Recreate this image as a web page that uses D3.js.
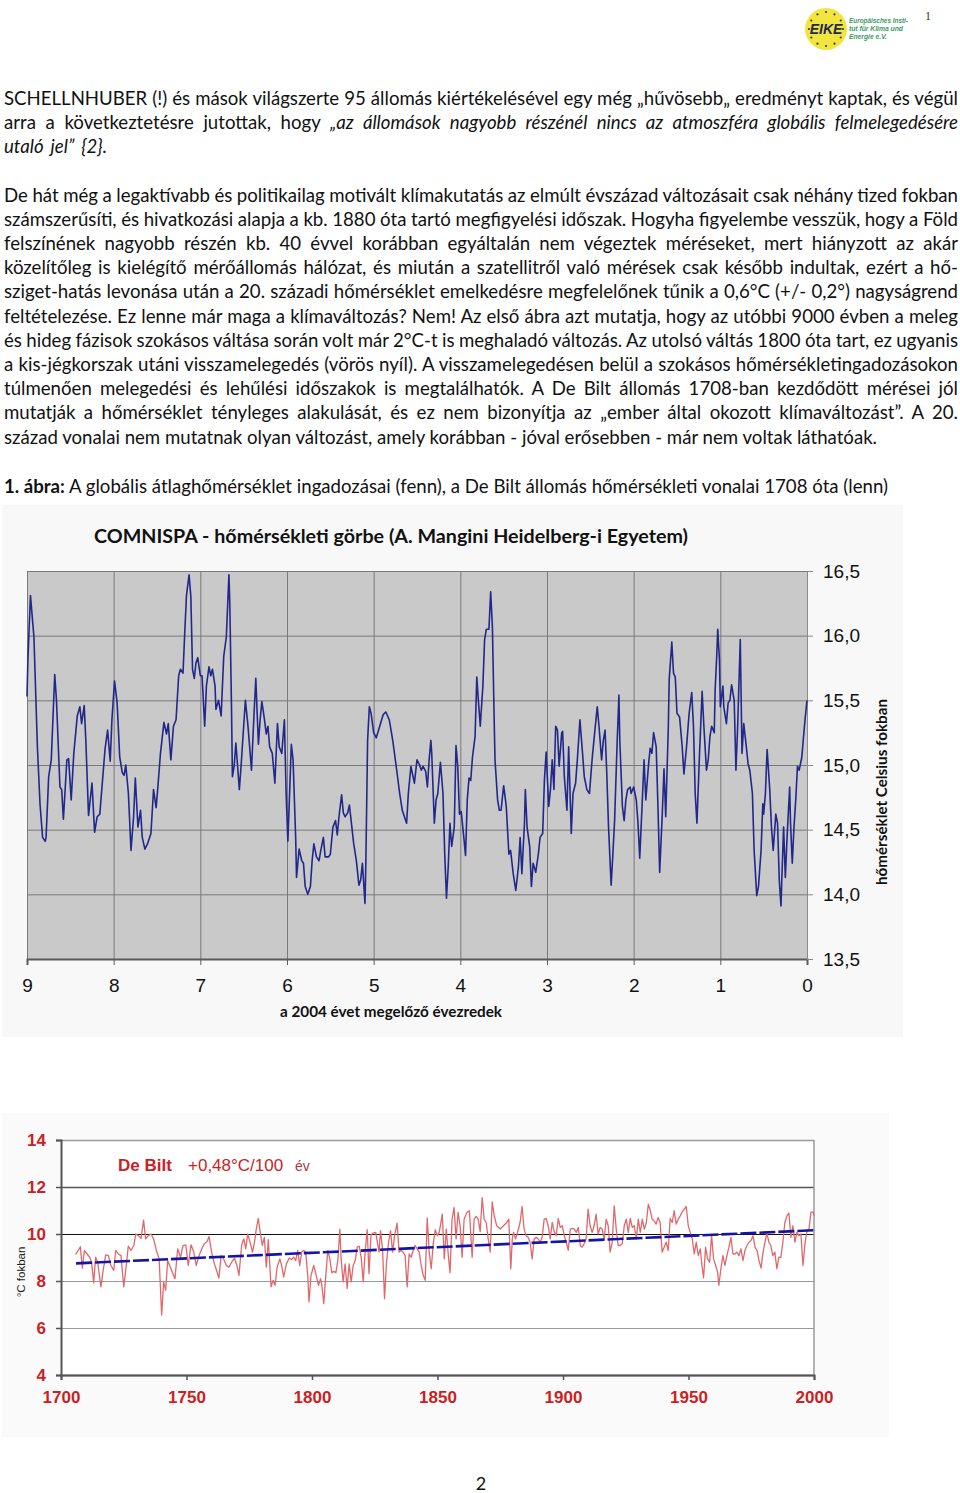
<!DOCTYPE html>
<html><head><meta charset="utf-8">
<script src="https://cdn.jsdelivr.net/npm/d3@7"></script>
<style>
html,body{margin:0;padding:0;background:#fff;}
svg{display:block;}
</style></head><body>
<svg id="page" width="960" height="1493"></svg>
<script>
// ---------------- DATA ----------------
// COMNISPA: millennia before 2004, temperature (°C)
const comnispaKa = [9.00,8.99,8.96,8.93,8.92,8.88,8.85,8.82,8.79,8.78,8.75,8.72,8.68,8.66,8.62,8.60,8.58,8.56,8.54,8.52,8.49,8.46,8.42,8.39,8.37,8.34,8.32,8.29,8.25,8.22,8.19,8.16,8.10,8.07,8.04,8.02,7.99,7.96,7.93,7.90,7.88,7.86,7.83,7.80,7.77,7.75,7.72,7.69,7.67,7.64,7.61,7.57,7.54,7.51,7.49,7.46,7.42,7.39,7.37,7.34,7.31,7.28,7.25,7.23,7.20,7.18,7.16,7.13,7.11,7.09,7.07,7.05,7.03,7.00,6.98,6.95,6.93,6.90,6.88,6.86,6.83,6.82,6.79,6.76,6.73,6.70,6.67,6.66,6.64,6.63,6.61,6.59,6.57,6.55,6.53,6.50,6.48,6.45,6.41,6.38,6.36,6.33,6.31,6.29,6.26,6.24,6.22,6.20,6.17,6.14,6.11,6.09,6.06,6.03,6.01,5.99,5.97,5.95,5.93,5.90,5.89,5.86,5.83,5.81,5.79,5.76,5.73,5.71,5.69,5.66,5.63,5.61,5.58,5.56,5.52,5.50,5.47,5.44,5.42,5.40,5.37,5.35,5.33,5.30,5.28,5.26,5.23,5.20,5.17,5.15,5.13,5.10,5.09,5.07,5.05,5.03,5.00,4.97,4.93,4.89,4.86,4.82,4.78,4.74,4.70,4.67,4.62,4.60,4.57,
4.53,4.50,4.47,4.45,4.43,4.40,4.38,4.36,4.34,4.33,4.30,4.28,4.26,4.23,4.20,4.18,4.16,4.14,4.12,4.10,4.07,4.05,4.03,4.01,3.99,3.96,3.94,3.92,3.90,3.88,3.86,3.83,3.81,3.79,3.77,3.74,3.72,3.70,3.67,3.65,3.63,3.61,3.60,3.57,3.55,3.53,3.50,3.47,3.44,3.42,3.39,3.36,3.33,3.31,3.29,3.26,3.25,3.23,3.20,3.18,3.16,3.13,3.10,3.08,3.05,3.03,3.01,2.98,2.96,2.94,2.92,2.90,2.88,2.86,2.83,2.82,2.80,2.77,2.75,2.72,2.70,2.67,2.65,2.62,2.59,2.57,2.54,2.51,2.48,2.45,2.42,2.40,2.37,2.35,2.33,2.31,2.29,2.26,2.24,2.22,2.19,2.17,2.16,2.13,2.11,2.09,2.07,2.04,2.03,2.00,1.97,1.95,1.93,1.90,1.88,1.86,1.83,1.81,1.79,1.77,1.74,1.72,1.70,1.67,1.65,1.63,1.60,1.59,1.56,1.54,1.52,1.50,1.47,1.44,1.42,1.39,1.36,1.33,1.31,1.29,1.27,1.24,1.21,1.19,1.16,1.14,1.12,1.10,1.07,1.06,1.04,1.03,1.01,1.00,0.97,0.96,0.93,0.91,0.89,0.87,0.84,0.82,0.80,0.77,0.75,0.73,0.70,0.68,0.66,0.63,0.61,0.58,0.56,0.53,0.51,0.50,0.48,0.46,0.43,0.41,0.39,0.36,0.34,0.32,0.30,0.29,0.27,0.25,0.23,0.20,0.19,0.17,0.15,0.13,0.11,0.09,0.06,0.04,0.02,0.00];
const comnispaTemp = [15.53,15.81,16.31,16.07,15.99,15.14,14.70,14.44,14.41,14.44,14.91,15.04,15.70,15.50,14.83,14.81,14.58,14.81,15.04,15.05,14.73,15.09,15.38,15.45,15.32,15.46,15.17,14.61,14.86,14.48,14.60,14.62,15.12,15.27,15.03,15.35,15.65,15.48,15.06,14.94,14.92,15.00,14.78,14.34,14.60,14.90,14.52,14.65,14.44,14.35,14.39,14.47,14.81,14.67,14.83,15.09,15.33,15.24,15.32,15.04,15.30,15.35,15.69,15.74,15.71,16.02,16.31,16.47,16.31,15.74,15.67,15.79,15.83,15.69,15.69,15.30,15.61,15.76,15.69,15.74,15.61,15.43,15.50,15.38,15.84,15.99,16.47,16.25,15.43,14.91,14.99,15.17,14.99,14.81,14.99,15.30,15.50,15.30,14.96,15.40,15.67,15.16,15.35,15.49,15.35,15.24,15.30,15.14,15.09,14.86,15.32,15.14,15.09,15.35,14.78,14.41,14.78,15.16,15.04,14.44,14.13,14.35,14.26,14.24,14.06,14.00,14.06,14.26,14.39,14.29,14.26,14.34,14.44,14.29,14.29,14.31,14.52,14.57,14.46,14.60,14.77,14.63,14.60,14.63,14.69,14.57,14.39,14.26,14.07,14.11,14.24,13.93,14.26,15.19,15.45,15.40,15.25,15.21,15.30,15.39,15.41,15.35,15.19,14.99,14.78,14.65,14.55,14.78,14.99,
14.86,15.04,15.00,14.96,14.99,14.95,14.83,15.04,15.19,15.09,14.55,14.73,14.78,15.02,14.78,14.31,13.97,14.21,14.55,14.37,14.52,15.15,14.99,14.62,14.64,14.44,14.30,14.73,14.90,14.88,15.06,15.22,15.68,15.48,15.30,15.61,15.97,16.05,16.05,16.34,16.07,15.37,15.04,14.73,14.65,14.65,14.84,14.68,14.31,14.34,14.16,14.03,14.21,14.44,14.16,14.55,14.81,14.52,14.37,14.06,14.24,14.17,14.31,14.44,14.47,14.88,15.10,14.68,14.81,15.04,14.81,15.30,15.27,14.99,15.25,15.26,14.91,14.65,15.14,14.47,14.78,14.86,15.04,15.35,15.09,14.91,14.81,14.78,15.04,15.25,15.45,15.30,15.04,15.19,15.27,14.93,14.52,14.07,14.31,14.57,15.19,15.54,15.19,14.68,14.57,14.73,14.81,14.83,14.78,14.83,14.73,14.55,14.28,14.73,15.04,14.73,14.99,15.13,15.09,15.25,15.14,14.68,14.17,14.62,14.97,14.60,15.30,15.66,15.95,15.71,15.68,15.40,15.37,15.14,14.93,15.14,15.40,15.56,15.30,14.78,14.55,15.09,15.57,15.30,14.96,15.04,15.22,15.30,15.25,15.58,15.87,16.05,15.81,15.45,15.61,15.45,15.32,15.48,15.50,15.62,15.50,14.96,15.30,15.97,15.09,15.32,15.14,15.01,14.96,14.78,14.34,13.99,14.06,14.34,14.70,14.62,14.78,15.12,14.81,14.52,14.34,14.62,14.55,14.11,13.91,14.13,14.52,14.13,14.44,14.83,14.55,14.24,14.52,14.73,14.99,14.96,15.06,15.22,15.37,15.50];
const comnispaXTicks = [9,8,7,6,5,4,3,2,1,0];
const comnispaYTicks = [13.5,14.0,14.5,15.0,15.5,16.0,16.5];

// De Bilt annual mean temperature (°C)
const deBiltYears = [1705.8,1706.9,1707.7,1708.5,1709.3,1710.4,1711.4,1712.2,1713.0,1713.8,1714.6,1715.9,1716.7,1717.8,1718.9,1719.9,1721.0,1721.8,1722.8,1723.9,1725.0,1726.0,1726.8,1727.9,1729.0,1729.8,1730.8,1731.9,1732.9,1733.7,1734.8,1735.9,1736.9,1738.0,1739.1,1740.1,1740.9,1741.7,1742.5,1743.3,1744.1,1745.4,1746.5,1747.6,1748.6,1749.7,1750.7,1751.8,1752.9,1753.9,1755.0,1756.1,1757.1,1758.2,1759.0,1760.0,1761.1,1762.2,1762.9,1763.8,1764.8,1765.9,1766.9,1768.0,1769.1,1770.1,1770.9,1772.0,1772.8,1773.6,1774.4,1775.5,1776.3,1777.1,1777.8,1778.6,1779.4,1780.2,1781.0,1781.8,1782.6,1783.7,1784.5,1785.3,1786.1,1787.2,1787.9,1788.7,1789.8,1790.9,1791.9,1792.7,1793.5,1794.3,1795.1,1795.9,1796.7,1797.5,1798.3,1798.8,1799.6,1800.7,1801.5,1802.6,1803.4,1803.9,1804.7,1805.5,1806.3,1807.1,1807.9,1808.7,1809.5,1810.3,1811.1,1811.6,1812.4,1813.2,1814.0,1814.8,1815.6,1816.4,1817.2,1818.0,1818.8,1819.6,1820.4,1821.2,1822.0,1822.7,1823.5,1824.3,1825.4,1826.2,1826.7,1827.3,1828.1,1828.9,1829.7,1830.5,1831.3,1832.1,1832.9,1833.9,1834.7,1835.5,1836.3,1837.1,1837.9,1838.7,1839.5,1840.3,1841.1,1841.9,1842.7,1843.5,1844.3,1845.1,1845.9,1846.7,1847.5,1848.3,1849.1,1849.9,1850.7,
1851.9,1852.7,1853.5,1854.2,1855.0,1855.8,1856.6,1857.4,1858.2,1859.0,1859.8,1860.6,1861.7,1862.7,1863.8,1864.6,1865.4,1866.2,1867.0,1867.8,1868.6,1869.4,1870.2,1871.0,1871.8,1872.6,1873.6,1875.0,1876.3,1877.6,1878.4,1879.2,1879.8,1880.3,1881.1,1881.9,1882.9,1883.7,1884.5,1885.3,1886.1,1886.9,1887.7,1888.5,1889.3,1890.1,1890.9,1891.7,1892.5,1893.3,1894.1,1894.9,1895.7,1896.5,1897.3,1898.1,1898.9,1899.7,1900.5,1901.3,1902.1,1902.9,1903.7,1904.5,1905.3,1906.1,1906.9,1907.6,1908.4,1909.2,1910.0,1910.8,1911.6,1912.4,1913.2,1914.0,1914.8,1915.6,1916.4,1917.2,1918.0,1918.8,1919.6,1920.4,1921.2,1922.0,1922.8,1923.6,1924.4,1925.2,1926.0,1926.8,1927.6,1928.4,1929.2,1930.0,1930.8,1931.6,1932.4,1933.2,1934.0,1934.8,1935.5,1936.3,1937.1,1937.9,1938.7,1939.5,1940.3,1941.1,1941.9,1942.7,1943.5,1944.3,1945.1,1945.9,1946.7,1947.5,1948.3,1949.1,1949.9,1950.7,1951.5,1952.3,1953.1,1953.9,1954.7,1955.2,1956.0,1956.8,1957.6,1958.4,1959.2,1960.0,1960.8,1961.6,1962.1,1962.9,1963.7,1964.5,1965.3,1966.1,1966.9,1967.7,1968.5,1969.3,1970.1,1970.9,1971.7,1972.5,1973.3,1974.1,1974.9,1975.7,1976.5,1977.3,1978.1,1978.9,1979.7,1980.5,1981.2,1982.0,1982.8,1983.6,1984.4,1985.2,1986.0,1986.8,1987.6,1988.4,1989.2,1990.0,1990.8,1991.6,1992.4,1993.2,1994.0,1994.8,1995.6,1996.4,1997.2,1998.0,1998.8,1999.6,2000.1];
const deBiltTemp = [9.13,9.30,9.46,8.55,9.30,9.15,9.01,8.80,7.92,9.01,8.80,7.75,8.38,9.11,9.08,8.66,8.45,9.30,9.15,9.08,7.75,8.66,9.48,9.30,9.51,10.00,9.93,9.82,10.59,9.79,9.93,10.00,9.79,9.30,8.94,6.55,7.96,7.61,8.87,8.66,8.45,8.10,9.37,9.01,9.51,9.54,8.66,9.54,9.23,8.66,9.08,9.37,9.58,9.68,9.89,9.23,8.73,8.38,8.13,9.08,8.94,8.66,8.59,8.80,8.97,8.66,8.24,9.54,9.79,9.37,10.00,9.58,9.23,9.65,10.21,10.66,10.07,9.51,9.86,8.59,9.76,7.75,8.03,7.82,8.59,8.94,8.66,8.17,8.73,8.97,8.92,9.01,8.87,9.30,8.66,9.23,9.30,9.23,8.24,7.11,8.24,8.66,8.31,7.82,8.10,7.82,7.04,8.24,9.30,8.94,8.35,8.41,8.35,8.87,10.21,8.94,7.96,8.73,7.68,8.73,7.96,8.66,8.87,9.44,9.48,9.01,7.96,9.30,10.18,8.31,9.96,10.04,10.07,9.54,9.23,10.14,9.37,7.25,8.80,9.65,10.14,9.23,9.93,10.46,9.23,9.30,9.23,9.08,7.75,9.15,9.01,9.30,9.51,9.37,9.23,8.66,8.24,8.03,10.68,9.23,8.52,9.58,10.18,9.93,10.07,
10.85,8.94,10.21,9.23,8.35,10.63,11.13,9.79,10.92,10.35,9.01,10.63,10.92,10.99,9.01,10.63,10.75,10.63,10.10,11.55,10.63,10.49,9.79,9.23,11.37,10.77,10.35,10.21,10.35,10.49,10.63,8.52,9.79,10.07,9.79,10.07,10.49,11.17,10.21,9.93,9.86,9.65,8.94,9.79,9.86,9.79,9.65,9.86,10.63,10.66,10.35,9.79,10.49,10.10,9.93,10.66,10.28,10.35,9.93,9.65,9.30,10.21,10.24,10.21,10.07,10.28,9.51,9.44,9.58,9.79,11.06,10.35,10.07,10.35,10.85,10.00,10.28,10.21,9.79,10.63,10.35,9.23,9.65,11.20,10.21,9.51,9.51,9.58,10.35,10.63,10.07,10.66,10.28,10.35,9.79,10.63,10.07,10.63,10.21,10.49,11.27,10.99,10.63,10.56,10.42,10.70,10.49,9.23,9.44,9.65,9.30,10.66,10.49,10.99,10.42,10.63,10.77,10.94,11.06,11.17,10.35,10.07,9.79,9.15,9.65,9.08,9.37,8.80,8.13,9.44,8.94,8.80,9.93,8.94,8.66,8.38,7.82,8.52,9.08,8.66,9.08,9.44,9.86,9.15,9.15,9.23,9.08,9.37,8.87,9.30,9.51,9.65,9.72,9.93,9.44,9.30,8.87,8.55,9.23,9.65,10.07,9.65,9.51,9.08,9.23,8.52,9.01,9.01,9.65,10.49,10.77,10.89,9.86,10.35,9.65,10.07,9.93,10.00,8.66,9.58,10.14,10.21,10.92,10.94,10.77];
const deBiltTrendYears = [1706, 2000];
const deBiltTrendTemp = [8.75, 10.16];
const deBiltXTicks = [1700,1750,1800,1850,1900,1950,2000];
const deBiltYTicks = [4,6,8,10,12,14];

// ---------------- TEXT ----------------
const para1 = [
  [["SCHELLNHUBER (!) és mások világszerte 95 állomás kiértékelésével egy még „hűvösebb„ eredményt kaptak, és végül",""]],
  [["arra a következtetésre jutottak, hogy ",""],["„az állomások nagyobb részénél nincs az atmoszféra globális felmelegedésére","i"]],
  [["utaló jel” {2}.","i"]]
];
const para2 = [
  [["De hát még a legaktívabb és politikailag motivált klímakutatás az elmúlt évszázad változásait csak néhány tized fokban",""]],
  [["számszerűsíti, és hivatkozási alapja a kb. 1880 óta tartó megfigyelési időszak. Hogyha figyelembe vesszük, hogy a Föld",""]],
  [["felszínének nagyobb részén kb. 40 évvel korábban egyáltalán nem végeztek méréseket, mert hiányzott az akár",""]],
  [["közelítőleg is kielégítő mérőállomás hálózat, és miután a szatellitről való mérések csak később indultak, ezért a hő-",""]],
  [["sziget-hatás levonása után a 20. századi hőmérséklet emelkedésre megfelelőnek tűnik a 0,6°C (+/- 0,2°) nagyságrend",""]],
  [["feltételezése. Ez lenne már maga a klímaváltozás? Nem! Az első ábra azt mutatja, hogy az utóbbi 9000 évben a meleg",""]],
  [["és hideg fázisok szokásos váltása során volt már 2°C-t is meghaladó változás. Az utolsó váltás 1800 óta tart, ez ugyanis",""]],
  [["a kis-jégkorszak utáni visszamelegedés (vörös nyíl). A visszamelegedésen belül a szokásos hőmérsékletingadozásokon",""]],
  [["túlmenően melegedési és lehűlési időszakok is megtalálhatók. A De Bilt állomás 1708-ban kezdődött mérései jól",""]],
  [["mutatják a hőmérséklet tényleges alakulását, és ez nem bizonyítja az „ember által okozott klímaváltozást”. A 20.",""]],
  [["század vonalai nem mutatnak olyan változást, amely korábban - jóval erősebben - már nem voltak láthatóak.",""]]
];
const para3 = [
  [["1. ábra:","b"],[" A globális átlaghőmérséklet ingadozásai (fenn), a De Bilt állomás hőmérsékleti vonalai 1708 óta (lenn)",""]]
];
const para1Ends = [958, 958, 107];
const para2Ends = [958,958,958,958,958,958,958,958,958,958,877];
const para3Ends = [888];

const chart1Title = "COMNISPA - hőmérsékleti görbe (A. Mangini Heidelberg-i Egyetem)";
const chart1XTitle = "a 2004 évet megelőző évezredek";
const chart1YTitle = "hőmérséklet Celsius fokban";
const chart2Label1 = "De Bilt";
const chart2Label2 = "+0,48°C/100";
const chart2Label3 = "év";
const chart2YTitle = "°C fokban";
const logoLines = ["Europäisches Insti-","tut für Klima und","Energie e.V."];

// ---------------- DRAW ----------------
const svg = d3.select("#page");
svg.append("rect").attr("width",960).attr("height",1493).attr("fill","#fff");

const BODY_FONT = "Lato, 'Open Sans', sans-serif";
let BODY_SIZE = 16.6;

function makeLine(segs, x, y, size) {
  const t = svg.append("text").attr("x", x).attr("y", y)
    .attr("font-family", BODY_FONT).attr("font-size", size)
    .attr("fill", "#111").style("white-space", "pre");
  segs.forEach(s => t.append("tspan")
    .attr("font-style", s[1] === "i" ? "italic" : null)
    .attr("font-weight", s[1] === "b" ? "bold" : null)
    .text(s[0]));
  return t;
}
// calibrate body size on the (non-justified) last line of paragraph 2
{
  const probe = makeLine(para2[10], 4, -100, BODY_SIZE);
  const w = probe.node().getComputedTextLength();
  BODY_SIZE = BODY_SIZE * (para2Ends[10] - 4) / w;
  probe.remove();
}
function drawLine(segs, x, y, target) {
  const t = makeLine(segs, x, y, BODY_SIZE);
  const full = segs.map(s => s[0]).join("");
  const spaces = (full.match(/ /g) || []).length;
  let nat = t.node().getComputedTextLength();
  const avail = target - x;
  if (spaces > 0) {
    let ws = (avail - nat) / spaces;
    if (ws < -1.5) {
      const fs = BODY_SIZE * (avail + spaces * 1.5) / nat;
      t.attr("font-size", fs);
      nat = t.node().getComputedTextLength();
      ws = (avail - nat) / spaces;
    }
    t.style("word-spacing", ws + "px");
  }
}
para1.forEach((l, i) => drawLine(l, 4, 104.5 + i * 24.1, para1Ends[i]));
para2.forEach((l, i) => drawLine(l, 4, 201.5 + i * 24.2, para2Ends[i]));
para3.forEach((l, i) => drawLine(l, 4, 492.5, para3Ends[i]));

// header: logo and page number
const logo = svg.append("g");
logo.append("circle").attr("cx", 826).attr("cy", 29).attr("r", 21).attr("fill", "#f3e53f");
d3.range(12).forEach(k => {
  const a = k * Math.PI / 6;
  logo.append("circle").attr("cx", 826 + 17 * Math.cos(a)).attr("cy", 29 + 17 * Math.sin(a))
    .attr("r", 1.1).attr("fill", "#3a3a20");
});
logo.append("text").attr("x", 826).attr("y", 34).attr("text-anchor", "middle")
  .attr("font-family", "'Liberation Sans', Arial, sans-serif").attr("font-size", 14)
  .attr("font-weight", "bold").attr("font-style", "italic").attr("fill", "#1d2a55").text("EIKE");
logoLines.forEach((s, i) => logo.append("text").attr("x", 849).attr("y", 23 + i * 7.8)
  .attr("font-family", "'Liberation Sans', Arial, sans-serif").attr("font-size", 6.5)
  .attr("font-weight", "bold").attr("font-style", "italic").attr("fill", "#3c9a66")
  .attr("textLength", [59, 54, 38][i]).attr("lengthAdjust", "spacingAndGlyphs").text(s));
svg.append("text").attr("x", 928).attr("y", 20).attr("text-anchor", "middle")
  .attr("font-family", "'Liberation Serif', serif").attr("font-size", 12).attr("fill", "#333").text("1");
svg.append("text").attr("x", 481).attr("y", 1490).attr("text-anchor", "middle")
  .attr("font-family", BODY_FONT).attr("font-size", 18).attr("fill", "#111").text("2");

// ---------- Chart 1: COMNISPA ----------
svg.append("rect").attr("x", 2).attr("y", 505).attr("width", 901).attr("height", 532).attr("fill", "#f8f8f8");
const x1 = d3.scaleLinear().domain([9, 0]).range([27, 807]);
const y1 = d3.scaleLinear().domain([13.5, 16.5]).range([959, 571]);
const c1 = svg.append("g");
c1.append("rect").attr("x", x1(9)).attr("y", y1(16.5)).attr("width", x1(0) - x1(9))
  .attr("height", y1(13.5) - y1(16.5)).attr("fill", "#c9c9c9");
const gx1 = c1.append("g").attr("transform", `translate(0,${y1(13.5)})`)
  .call(d3.axisBottom(x1).tickValues(comnispaXTicks).tickSize(-(y1(13.5) - y1(16.5))).tickFormat(""));
gx1.select(".domain").remove();
gx1.selectAll("line").attr("stroke", "#7a7a7a").attr("stroke-width", 1);
const gy1 = c1.append("g").attr("transform", `translate(${x1(9)},0)`)
  .call(d3.axisLeft(y1).tickValues(comnispaYTicks).tickSize(-(x1(0) - x1(9))).tickFormat(""));
gy1.select(".domain").remove();
gy1.selectAll("line").attr("stroke", "#7a7a7a").attr("stroke-width", 1);
const ax1 = c1.append("g").attr("transform", `translate(0,${y1(13.5)})`)
  .call(d3.axisBottom(x1).tickValues(comnispaXTicks).tickSize(6).tickPadding(14).tickFormat(d3.format("d")));
ax1.select(".domain").attr("stroke", "#5a5a5a").attr("stroke-width", 2);
ax1.selectAll("line").attr("stroke", "#5a5a5a");
ax1.selectAll("text").attr("font-family", "'Liberation Sans', Arial, sans-serif").attr("font-size", 19).attr("fill", "#111");
const ay1 = c1.append("g").attr("transform", `translate(${x1(0)},0)`)
  .call(d3.axisRight(y1).tickValues(comnispaYTicks).tickSize(6).tickPadding(10)
    .tickFormat(d => d.toFixed(1).replace(".", ",")));
ay1.select(".domain").attr("stroke", "#8a8a8a").attr("stroke-width", 1);
ay1.selectAll("line").attr("stroke", "#8a8a8a");
ay1.selectAll("text").attr("font-family", "'Liberation Sans', Arial, sans-serif").attr("font-size", 19).attr("fill", "#111");
c1.append("path").datum(d3.zip(comnispaKa, comnispaTemp)).attr("fill", "none")
  .attr("stroke", "#22288a").attr("stroke-width", 1.6).attr("stroke-linejoin", "round")
  .attr("d", d3.line().x(d => x1(d[0])).y(d => y1(d[1])));
c1.append("text").attr("x", 94).attr("y", 543).attr("font-family", "Lato, 'Open Sans', sans-serif")
  .attr("font-weight", "bold").attr("font-size", 18.5).attr("fill", "#111")
  .attr("textLength", 594).attr("lengthAdjust", "spacingAndGlyphs").text(chart1Title);
c1.append("text").attr("x", 280).attr("y", 1017).attr("font-family", "Lato, 'Open Sans', sans-serif")
  .attr("font-weight", "bold").attr("font-size", 14.5).attr("fill", "#111")
  .attr("textLength", 222).attr("lengthAdjust", "spacingAndGlyphs").text(chart1XTitle);
c1.append("text").attr("transform", "translate(887,792) rotate(-90)").attr("text-anchor", "middle")
  .attr("font-family", "Lato, 'Open Sans', sans-serif").attr("font-weight", "bold").attr("font-size", 14.5)
  .attr("fill", "#111").attr("textLength", 186).attr("lengthAdjust", "spacingAndGlyphs").text(chart1YTitle);

// ---------- Chart 2: De Bilt ----------
svg.append("rect").attr("x", 2).attr("y", 1113).attr("width", 887).attr("height", 324).attr("fill", "#fafafa");
const x2 = d3.scaleLinear().domain([1700, 2000]).range([61, 814]);
const y2 = d3.scaleLinear().domain([4, 14]).range([1375, 1140]);
const c2 = svg.append("g");
c2.append("rect").attr("x", x2(1700)).attr("y", y2(14)).attr("width", x2(2000) - x2(1700))
  .attr("height", y2(4) - y2(14)).attr("fill", "#fff");
const gridStyle = {14: ["#9a9a9a", 1.5], 12: ["#555", 1.6], 10: ["#111", 1], 8: ["#999", 1.2], 6: ["#999", 1.2], 4: ["#555", 1.5]};
const gy2 = c2.append("g").attr("transform", `translate(${x2(1700)},0)`)
  .call(d3.axisLeft(y2).tickValues(deBiltYTicks).tickSize(-(x2(2000) - x2(1700))).tickFormat(""));
gy2.select(".domain").remove();
gy2.selectAll(".tick line").attr("stroke", d => gridStyle[d][0]).attr("stroke-width", d => gridStyle[d][1]);
c2.append("line").attr("x1", x2(2000)).attr("x2", x2(2000)).attr("y1", y2(14)).attr("y2", y2(4))
  .attr("stroke", "#9a9a9a").attr("stroke-width", 1.5);
const red = "#cc1e24";
const ay2 = c2.append("g").attr("transform", `translate(${x2(1700)},0)`)
  .call(d3.axisLeft(y2).tickValues(deBiltYTicks).tickSize(5).tickPadding(10).tickFormat(d3.format("d")));
ay2.select(".domain").attr("stroke", "#555").attr("stroke-width", 2);
ay2.selectAll("line").attr("stroke", "#555").attr("stroke-width", 1.5);
ay2.selectAll("text").attr("font-family", "'Liberation Sans', Arial, sans-serif").attr("font-weight", "bold")
  .attr("font-size", 17).attr("fill", red);
const ax2 = c2.append("g").attr("transform", `translate(0,${y2(4)})`)
  .call(d3.axisBottom(x2).tickValues(deBiltXTicks).tickSize(5).tickPadding(11).tickFormat(d3.format("d")));
ax2.select(".domain").attr("stroke", "#555").attr("stroke-width", 2);
ax2.selectAll("line").attr("stroke", "#555").attr("stroke-width", 1.5);
ax2.selectAll("text").attr("font-family", "'Liberation Sans', Arial, sans-serif").attr("font-weight", "bold")
  .attr("font-size", 17).attr("fill", red);
c2.append("path").datum(d3.zip(deBiltYears, deBiltTemp)).attr("fill", "none")
  .attr("stroke", "#e0686c").attr("stroke-width", 1.3).attr("stroke-linejoin", "round")
  .attr("d", d3.line().x(d => x2(d[0])).y(d => y2(d[1])));
c2.append("path").datum(d3.zip(deBiltTrendYears, deBiltTrendTemp)).attr("fill", "none")
  .attr("stroke", "#1414a8").attr("stroke-width", 2.6).attr("stroke-dasharray", "16,3")
  .attr("d", d3.line().x(d => x2(d[0])).y(d => y2(d[1])));
const lab = c2.append("text").attr("x", 118).attr("y", 1171)
  .attr("font-family", "'Liberation Sans', Arial, sans-serif").attr("fill", red).style("white-space", "pre");
lab.append("tspan").attr("font-weight", "bold").attr("font-size", 17).text(chart2Label1);
lab.append("tspan").attr("x", 188).attr("font-size", 17).text(chart2Label2);
lab.append("tspan").attr("x", 295).attr("font-size", 14).attr("fill", "#a83a3a").text(chart2Label3);
c2.append("text").attr("transform", "translate(25,1272) rotate(-90)").attr("text-anchor", "middle")
  .attr("font-family", "'Liberation Sans', Arial, sans-serif").attr("font-size", 11.5).attr("fill", "#222")
  .text(chart2YTitle);
</script>
</body></html>
